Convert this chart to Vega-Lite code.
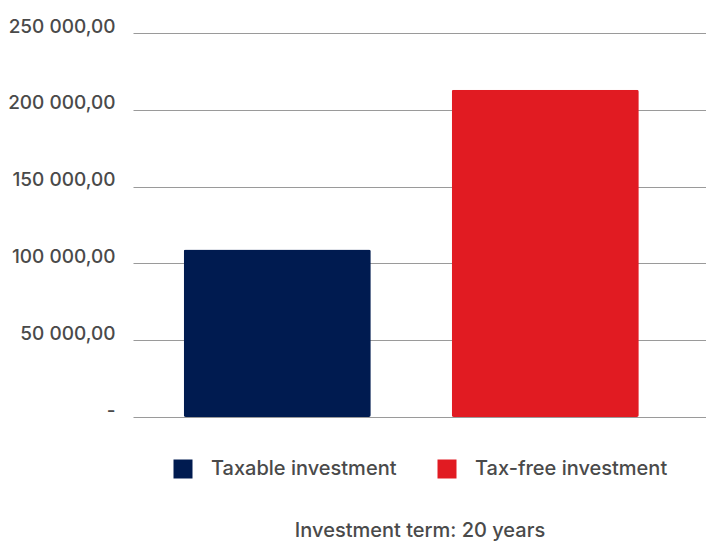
{
  "$schema": "https://vega.github.io/schema/vega-lite/v6.json",
  "autosize": {"type": "none"},
  "width": 573,
  "height": 384,
  "padding": {"left": 133, "top": 33, "right": 0, "bottom": 125},
  "background": "white",
  "config": {
    "view": {"stroke": null},
    "font": "Inter",
    "axis": {"labelFont": "Inter", "titleFont": "Inter"},
    "legend": {"labelFont": "Inter"}
  },
  "data": {
    "values": [
      {"category": "Taxable investment", "value": 109000},
      {"category": "Tax-free investment", "value": 213000}
    ]
  },
  "mark": {"type": "bar", "cornerRadius": 2},
  "encoding": {
    "x": {
      "field": "category",
      "type": "nominal",
      "sort": null,
      "scale": {"paddingInner": 0.302, "paddingOuter": 0.22, "align": 0.43},
      "axis": {
        "labels": false,
        "ticks": false,
        "domain": false,
        "title": "Investment term: 20 years",
        "titleFontSize": 20,
        "titleFontWeight": 500,
        "titleColor": "#4a4a4a",
        "titlePadding": 103
      }
    },
    "y": {
      "field": "value",
      "type": "quantitative",
      "scale": {"domain": [0, 250000]},
      "axis": {
        "title": null,
        "values": [0, 50000, 100000, 150000, 200000, 250000],
        "labelExpr": "datum.value == 0 ? '-' : replace(replace(format(datum.value, ',.2f'), ',', ' '), '.', ',')",
        "labelFontSize": 19,
        "labelFontWeight": 500,
        "labelColor": "#4a4a4a",
        "labelPadding": 18,
        "labelBaseline": "alphabetic",
        "labelOffset": -1,
        "ticks": false,
        "domain": false,
        "grid": true,
        "gridColor": "#9a9a9a",
        "gridWidth": 1
      }
    },
    "color": {
      "field": "category",
      "type": "nominal",
      "sort": null,
      "scale": {"range": ["#001b50", "#e11b22"]},
      "legend": {
        "title": null,
        "orient": "none",
        "legendX": 40,
        "legendY": 426,
        "direction": "horizontal",
        "symbolType": "square",
        "symbolSize": 361,
        "symbolStrokeWidth": 0,
        "symbolOpacity": 1,
        "labelFontSize": 20,
        "labelFontWeight": 500,
        "labelLimit": 400,
        "labelColor": "#4a4a4a",
        "labelOffset": 18,
        "columnPadding": 40,
        "padding": 0
      }
    }
  }
}
